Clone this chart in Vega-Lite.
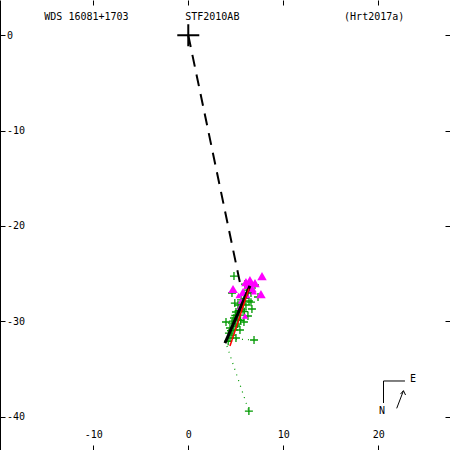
{
  "$schema": "https://vega.github.io/schema/vega-lite/v6.json",
  "width": 450,
  "height": 450,
  "autosize": {"type": "none"},
  "padding": 0,
  "background": "white",
  "config": {
    "view": {"stroke": null},
    "axis": {"grid": false, "title": null, "domainColor": "black", "tickColor": "black", "labelColor": "black", "labelFont": "DejaVu Sans Mono", "labelFontSize": 10, "tickSize": -5, "tickWidth": 1, "domainWidth": 1}
  },
  "datasets": {
    "segs": [
      {"kind": "dot", "x": 4.07, "y": -32.6, "x2": 6.38, "y2": -39.43},
      {"kind": "dot", "x": 5.02, "y": -31.87, "x2": 6.92, "y2": -31.97},
      {"kind": "dash", "x": 0, "y": 0, "x2": 5.45, "y2": -26.0},
      {"kind": "orbit", "x": 6.49, "y": -26.3, "x2": 3.86, "y2": -32.3},
      {"kind": "red", "x": 6.39, "y": -26.6, "x2": 4.39, "y2": -32.6},
      {"kind": "thin", "x": 20.55, "y": -36.27, "x2": 22.81, "y2": -36.27},
      {"kind": "thin", "x": 20.55, "y": -36.27, "x2": 20.55, "y2": -38.58},
      {"kind": "thin", "x": 21.94, "y": -39.14, "x2": 22.65, "y2": -37.29},
      {"kind": "thin", "x": 22.65, "y": -37.29, "x2": 22.34, "y2": -37.64},
      {"kind": "thin", "x": 22.65, "y": -37.29, "x2": 22.87, "y2": -37.74}
    ],
    "crosses": [
      {"x": 4.81, "y": -25.26}, {"x": 4.6, "y": -27.04}, {"x": 6.7, "y": -28.72}, {"x": 6.92, "y": -31.97},
      {"x": 6.38, "y": -39.43}, {"x": 7.02, "y": -26.2}, {"x": 6.6, "y": -27.04}, {"x": 6.39, "y": -27.88},
      {"x": 5.86, "y": -27.25}, {"x": 6.07, "y": -28.3}, {"x": 5.55, "y": -27.77}, {"x": 5.76, "y": -28.8},
      {"x": 5.23, "y": -28.3}, {"x": 5.44, "y": -29.35}, {"x": 5.02, "y": -29.03}, {"x": 5.23, "y": -29.87},
      {"x": 4.81, "y": -29.66}, {"x": 5.02, "y": -30.5}, {"x": 4.6, "y": -30.19}, {"x": 4.81, "y": -30.92},
      {"x": 4.39, "y": -30.71}, {"x": 4.6, "y": -31.45}, {"x": 4.39, "y": -31.76}, {"x": 5.02, "y": -31.76},
      {"x": 6.18, "y": -26.73}, {"x": 6.49, "y": -26.1}, {"x": 5.97, "y": -26.1}, {"x": 6.28, "y": -29.45},
      {"x": 5.86, "y": -30.08}, {"x": 5.44, "y": -30.92}, {"x": 4.28, "y": -31.24}, {"x": 7.34, "y": -27.46},
      {"x": 3.97, "y": -30.08}, {"x": 5.3, "y": -28.9}, {"x": 5.65, "y": -28.2}, {"x": 4.95, "y": -29.4},
      {"x": 4.7, "y": -30.0}, {"x": 6.0, "y": -27.6}, {"x": 6.3, "y": -27.0}, {"x": 4.5, "y": -31.0},
      {"x": 5.2, "y": -30.3}, {"x": 5.9, "y": -29.0}, {"x": 4.9, "y": -28.1}, {"x": 6.6, "y": -28.0},
      {"x": 4.2, "y": -32.1}, {"x": 5.5, "y": -29.9}
    ],
    "tris": [
      {"set": "a", "x": 7.76, "y": -25.26}, {"set": "a", "x": 4.71, "y": -26.62}, {"set": "a", "x": 7.65, "y": -27.15},
      {"set": "a", "x": 7.02, "y": -26.0}, {"set": "a", "x": 6.07, "y": -25.89}, {"set": "a", "x": 6.49, "y": -25.68},
      {"set": "a", "x": 6.7, "y": -26.52}, {"set": "a", "x": 5.76, "y": -26.94}, {"set": "a", "x": 6.3, "y": -26.2},
      {"set": "b", "x": 5.55, "y": -27.88}, {"set": "b", "x": 5.97, "y": -29.45}, {"set": "b", "x": 5.44, "y": -28.51},
      {"set": "b", "x": 6.9, "y": -26.9}, {"set": "b", "x": 6.2, "y": -27.3}, {"set": "b", "x": 5.3, "y": -27.3},
      {"set": "b", "x": 6.6, "y": -25.9}
    ],
    "origin": [{"x": 0, "y": 0}],
    "labels": [
      {"label": "WDS 16081+1703", "x": -10.72, "y": 1.95},
      {"label": "STF2010AB", "x": 2.53, "y": 1.95},
      {"label": "(Hrt2017a)", "x": 19.57, "y": 1.95},
      {"label": "N", "x": 20.39, "y": -39.43},
      {"label": "E", "x": 23.65, "y": -36.07}
    ]
  },
  "layer": [
    {
      "data": {"name": "origin"},
      "mark": {"type": "point", "shape": "M-1,0L1,0M0,-1L0,1", "size": 484, "strokeWidth": 2, "color": "black", "filled": false, "opacity": 1},
      "encoding": {
        "x": {"field": "x", "type": "quantitative", "scale": {"domain": [-19.82, 27.55], "nice": false, "zero": false},
              "axis": {"orient": "bottom", "values": [-10, 0, 10, 20], "labelExpr": "'' + datum.value", "labelPadding": -11, "labelBaseline": "middle"}},
        "y": {"field": "y", "type": "quantitative", "scale": {"domain": [-43.51, 3.7], "nice": false, "zero": false},
              "axis": {"orient": "left", "values": [0, -10, -20, -30, -40], "labelExpr": "'' + datum.value", "labelPadding": -1.5, "labelAlign": "left"}}
      }
    },
    {
      "data": {"name": "labels"},
      "mark": {"type": "text", "font": "DejaVu Sans Mono", "fontSize": 10, "color": "black", "align": "center", "baseline": "middle"},
      "encoding": {
        "x": {"field": "x", "type": "quantitative", "scale": {"domain": [-19.82, 27.55], "nice": false, "zero": false},
              "axis": {"orient": "top", "values": [-10, 0, 10, 20], "labels": false, "domain": false}},
        "y": {"field": "y", "type": "quantitative", "scale": {"domain": [-43.51, 3.7], "nice": false, "zero": false},
              "axis": {"orient": "right", "values": [0, -10, -20, -30, -40], "labels": false, "domain": false}},
        "text": {"field": "label"}
      }
    },
    {
      "data": {"name": "segs"},
      "transform": [{"filter": "datum.kind == 'dot'"}],
      "mark": {"type": "rule", "color": "#009900", "strokeDash": [1, 5], "strokeWidth": 1.2},
      "encoding": {
        "x": {"field": "x", "type": "quantitative", "scale": {"domain": [-19.82, 27.55], "nice": false, "zero": false}, "axis": null},
        "y": {"field": "y", "type": "quantitative", "scale": {"domain": [-43.51, 3.7], "nice": false, "zero": false}, "axis": null},
        "x2": {"field": "x2"}, "y2": {"field": "y2"}
      }
    },
    {
      "data": {"name": "crosses"},
      "mark": {"type": "point", "shape": "M-1,0L1,0M0,-1L0,1", "size": 64, "strokeWidth": 1.3, "color": "#009900", "filled": false, "opacity": 1},
      "encoding": {
        "x": {"field": "x", "type": "quantitative", "scale": {"domain": [-19.82, 27.55], "nice": false, "zero": false}, "axis": null},
        "y": {"field": "y", "type": "quantitative", "scale": {"domain": [-43.51, 3.7], "nice": false, "zero": false}, "axis": null}
      }
    },
    {
      "data": {"name": "tris"},
      "transform": [{"filter": "datum.set == 'a'"}],
      "mark": {"type": "point", "shape": "triangle-up", "size": 90, "color": "#ff00ff", "filled": true, "opacity": 1},
      "encoding": {
        "x": {"field": "x", "type": "quantitative", "scale": {"domain": [-19.82, 27.55], "nice": false, "zero": false}, "axis": null},
        "y": {"field": "y", "type": "quantitative", "scale": {"domain": [-43.51, 3.7], "nice": false, "zero": false}, "axis": null}
      }
    },
    {
      "data": {"name": "tris"},
      "transform": [{"filter": "datum.set == 'b'"}],
      "mark": {"type": "point", "shape": "triangle-up", "size": 40, "color": "#ff00ff", "filled": true, "opacity": 1},
      "encoding": {
        "x": {"field": "x", "type": "quantitative", "scale": {"domain": [-19.82, 27.55], "nice": false, "zero": false}, "axis": null},
        "y": {"field": "y", "type": "quantitative", "scale": {"domain": [-43.51, 3.7], "nice": false, "zero": false}, "axis": null}
      }
    },
    {
      "data": {"name": "segs"},
      "transform": [{"filter": "datum.kind == 'dash'"}],
      "mark": {"type": "rule", "color": "black", "strokeDash": [12, 8], "strokeWidth": 2},
      "encoding": {
        "x": {"field": "x", "type": "quantitative", "scale": {"domain": [-19.82, 27.55], "nice": false, "zero": false}, "axis": null},
        "y": {"field": "y", "type": "quantitative", "scale": {"domain": [-43.51, 3.7], "nice": false, "zero": false}, "axis": null},
        "x2": {"field": "x2"}, "y2": {"field": "y2"}
      }
    },
    {
      "data": {"name": "segs"},
      "transform": [{"filter": "datum.kind == 'orbit'"}],
      "mark": {"type": "rule", "color": "black", "strokeWidth": 3},
      "encoding": {
        "x": {"field": "x", "type": "quantitative", "scale": {"domain": [-19.82, 27.55], "nice": false, "zero": false}, "axis": null},
        "y": {"field": "y", "type": "quantitative", "scale": {"domain": [-43.51, 3.7], "nice": false, "zero": false}, "axis": null},
        "x2": {"field": "x2"}, "y2": {"field": "y2"}
      }
    },
    {
      "data": {"name": "segs"},
      "transform": [{"filter": "datum.kind == 'red'"}],
      "mark": {"type": "rule", "color": "#ff0000", "strokeWidth": 1.5},
      "encoding": {
        "x": {"field": "x", "type": "quantitative", "scale": {"domain": [-19.82, 27.55], "nice": false, "zero": false}, "axis": null},
        "y": {"field": "y", "type": "quantitative", "scale": {"domain": [-43.51, 3.7], "nice": false, "zero": false}, "axis": null},
        "x2": {"field": "x2"}, "y2": {"field": "y2"}
      }
    },
    {
      "data": {"name": "segs"},
      "transform": [{"filter": "datum.kind == 'thin'"}],
      "mark": {"type": "rule", "color": "black", "strokeWidth": 1},
      "encoding": {
        "x": {"field": "x", "type": "quantitative", "scale": {"domain": [-19.82, 27.55], "nice": false, "zero": false}, "axis": null},
        "y": {"field": "y", "type": "quantitative", "scale": {"domain": [-43.51, 3.7], "nice": false, "zero": false}, "axis": null},
        "x2": {"field": "x2"}, "y2": {"field": "y2"}
      }
    }
  ],
  "resolve": {"axis": {"x": "independent", "y": "independent"}}
}
